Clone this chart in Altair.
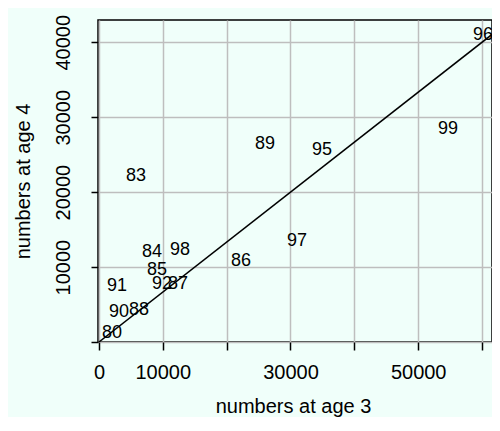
import altair as alt
import pandas as pd

years = ["80", "83", "84", "85", "86", "87", "88", "89", "90", "91", "92", "95", "96", "97", "98", "99"]
age3 = [2040, 5800, 8300, 9090, 22250, 12380, 6270, 26000, 3130, 2820, 9870, 34940, 60160, 31020, 12690, 54680]
age4 = [1190, 22180, 12010, 9640, 10830, 7790, 4220, 26400, 3960, 7530, 7790, 25610, 40920, 13470, 12280, 28380]

slope = 2 / 3
x_ticks = [0, 10000, 20000, 30000, 40000, 50000, 60000]
y_ticks = [0, 10000, 20000, 30000, 40000]
x_domain = [-150, 61560]
y_domain = [0, 42970]

pts = pd.DataFrame({"year": years, "age3": age3, "age4": age4})
line_df = pd.DataFrame({"age3": [0, x_domain[1]]})

FONT = "Liberation Sans, Arial, sans-serif"

xscale = alt.Scale(domain=x_domain, nice=False, zero=False)
yscale = alt.Scale(domain=y_domain, nice=False, zero=False)

W, H = 394, 322

xaxis = alt.Axis(
    values=x_ticks, format="d", title="numbers at age 3",
    labelExpr="(datum.value == 20000 || datum.value == 40000 || datum.value == 60000) ? '' : datum.label",
    labelFontSize=20, labelFont=FONT, labelColor="black", labelPadding=12,
    labelFlush=False, labelOverlap=False,
    tickColor="black", tickSize=8, tickWidth=1.5,
    grid=True, gridColor="#BEBEBE", gridWidth=1.5, domain=False,
    titleFontSize=20, titleFont=FONT, titleFontWeight="normal", titleColor="black",
    titleX=195, titleY=64, titleAlign="center", titleBaseline="middle",
)
yaxis = alt.Axis(
    values=y_ticks, format="d", title="numbers at age 4",
    labelExpr="datum.value == 0 ? '' : datum.label",
    labelAngle=270, labelAlign="center", labelBaseline="bottom",
    labelFontSize=20, labelFont=FONT, labelColor="black", labelPadding=18,
    labelFlush=False, labelOverlap=False,
    tickColor="black", tickSize=7, tickWidth=1.5,
    grid=True, gridColor="#BEBEBE", gridWidth=1.5, domain=False,
    titleFontSize=20, titleFont=FONT, titleFontWeight="normal", titleColor="black",
    titleX=-75, titleY=H / 2, titleAngle=270, titleAlign="center", titleBaseline="middle",
)

line = alt.Chart(line_df).transform_calculate(
    fit=f"{slope} * datum.age3"
).mark_line(color="black", strokeWidth=1.5, clip=True).encode(
    x=alt.X("age3:Q", scale=xscale, axis=xaxis),
    y=alt.Y("fit:Q", scale=yscale, axis=yaxis),
)

labels = alt.Chart(pts).mark_text(
    font=FONT, fontSize=18, color="black", align="center", baseline="middle"
).encode(
    x=alt.X("age3:Q", scale=xscale),
    y=alt.Y("age4:Q", scale=yscale),
    text="year:N",
)

chart = alt.layer(line, labels).properties(
    width=W, height=H,
    background="#F0FFFA",
    padding={"left": 90, "top": 12, "right": 0, "bottom": 75},
    autosize=alt.AutoSizeParams(type="none"),
).configure_view(
    stroke="black", strokeWidth=1.5, fill="#F0FFFA"
)

chart.save("out.html", embed_options={"renderer": "svg", "actions": False})
